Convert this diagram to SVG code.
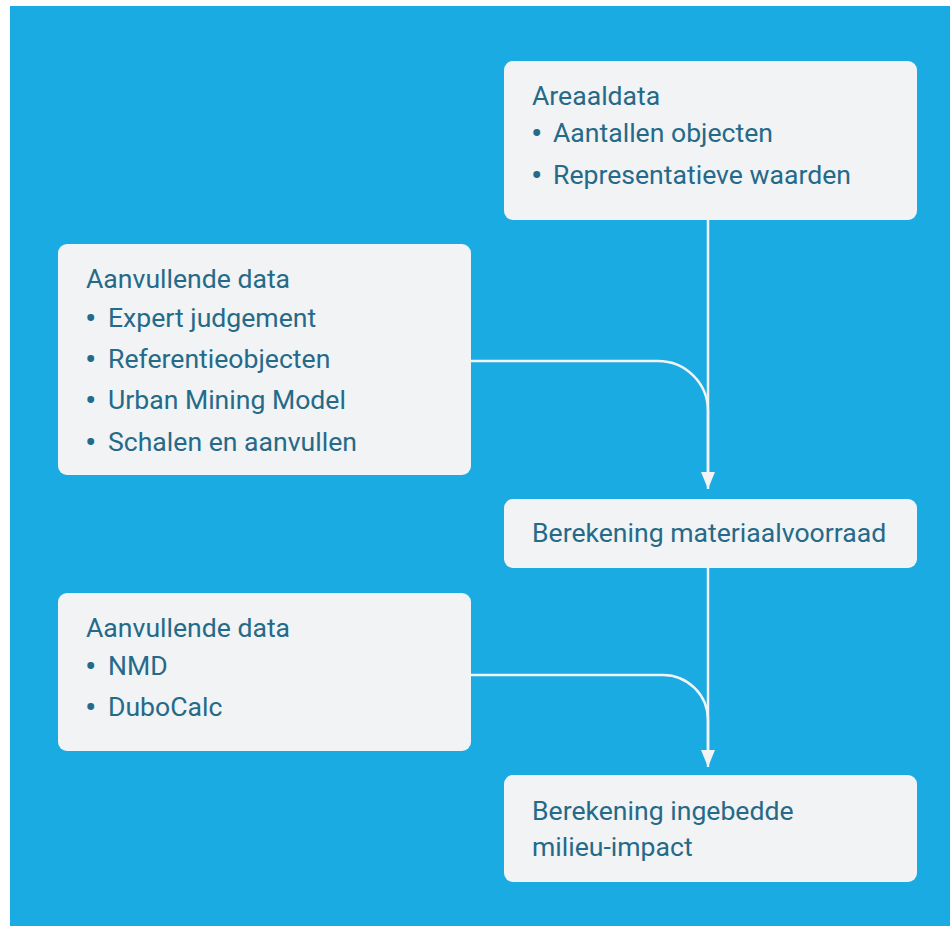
<svg xmlns="http://www.w3.org/2000/svg" width="950" height="926" viewBox="0 0 950 926">
<defs>
<style>
.box{fill:#f1f3f5;}
.t{font-family:Roboto,"Liberation Sans",sans-serif;font-size:26.6px;fill:#256a88;}
.b{font-family:Roboto,"Liberation Sans",sans-serif;font-size:34px;fill:#256a88;}
.c{fill:none;stroke:#f1f3f5;stroke-width:2.5;}
</style>
</defs>
<rect x="10" y="6" width="940" height="920" fill="#1aabe2"/>
<g id="connectors">
<path class="c" d="M708 220 V489"/>
<path class="c" d="M471 361 H658 A50 50 0 0 1 708 411 V472"/>
<path class="c" d="M708 568 V767"/>
<path class="c" d="M471 675 H663 A45 45 0 0 1 708 720 V750"/>
<path d="M701 472 L715 472 L708 489 Z" fill="#f1f3f5"/>
<path d="M701 750 L715 750 L708 767 Z" fill="#f1f3f5"/>
</g>
<g id="areaaldata">
<rect class="box" x="504" y="61" width="413" height="159" rx="9"/>
<text class="t" x="532" y="105">Areaaldata</text>
<text class="b" x="531" y="145">•</text><text class="t" x="553" y="142">Aantallen objecten</text>
<text class="b" x="531" y="187">•</text><text class="t" x="553" y="184">Representatieve waarden</text>
</g>
<g id="aanvullende1">
<rect class="box" x="58" y="244" width="413" height="231" rx="9"/>
<text class="t" x="86" y="288">Aanvullende data</text>
<text class="b" x="85" y="330">•</text><text class="t" x="108" y="327">Expert judgement</text>
<text class="b" x="85" y="371">•</text><text class="t" x="108" y="368">Referentieobjecten</text>
<text class="b" x="85" y="412">•</text><text class="t" x="108" y="409">Urban Mining Model</text>
<text class="b" x="85" y="454">•</text><text class="t" x="108" y="451">Schalen en aanvullen</text>
</g>
<g id="materiaalvoorraad">
<rect class="box" x="504" y="499" width="413" height="69" rx="9"/>
<text class="t" x="532" y="542">Berekening materiaalvoorraad</text>
</g>
<g id="aanvullende2">
<rect class="box" x="58" y="593" width="413" height="158" rx="9"/>
<text class="t" x="86" y="637">Aanvullende data</text>
<text class="b" x="85" y="678">•</text><text class="t" x="108" y="675">NMD</text>
<text class="b" x="85" y="719">•</text><text class="t" x="108" y="716">DuboCalc</text>
</g>
<g id="milieuimpact">
<rect class="box" x="504" y="775" width="413" height="107" rx="9"/>
<text class="t" x="532" y="820">Berekening ingebedde</text>
<text class="t" x="532" y="856">milieu-impact</text>
</g>
</svg>
